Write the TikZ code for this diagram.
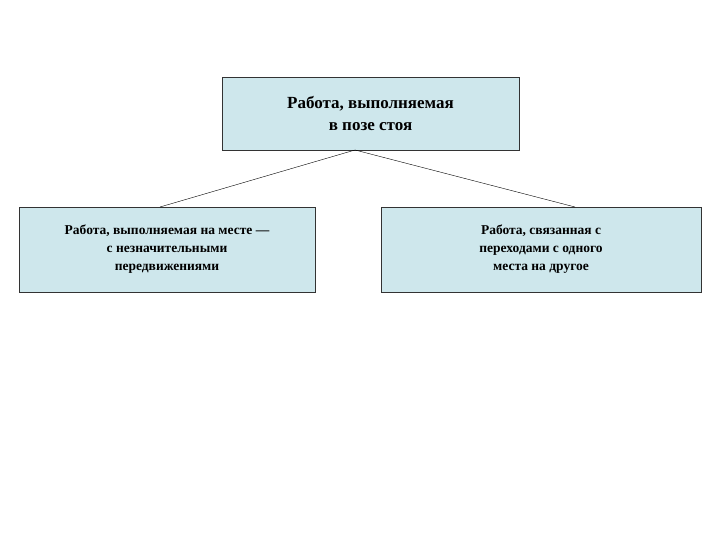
\documentclass[tikz,border=0pt]{standalone}
\usepackage{fontspec}
\setmainfont{Liberation Serif}
\definecolor{boxfill}{RGB}{206,231,236}
\begin{document}
\begin{tikzpicture}[x=1pt,y=-1pt,
  box/.style={draw=black!80,fill=boxfill,align=center,font=\bfseries,inner sep=0pt}]
\useasboundingbox (0,0) rectangle (720,540);
\node[box,minimum width=297pt,minimum height=73pt,font=\bfseries\fontsize{17}{22}\selectfont] (top) at (370.5,113.5) {Работа, выполняемая\\в позе стоя};
\node[box,minimum width=296pt,minimum height=85pt,font=\bfseries\fontsize{13.5}{18}\selectfont] (left) at (167,249.5) {Работа, выполняемая на месте —\\с незначительными\\передвижениями};
\node[box,minimum width=320pt,minimum height=85pt,font=\bfseries\fontsize{13.5}{18}\selectfont] (right) at (541,249.5) {Работа, связанная с\\переходами с одного\\места на другое};
\coordinate (c) at (355,150);
\draw (c) -- (160,207);
\draw (c) -- (575,207);
\end{tikzpicture}
\end{document}
